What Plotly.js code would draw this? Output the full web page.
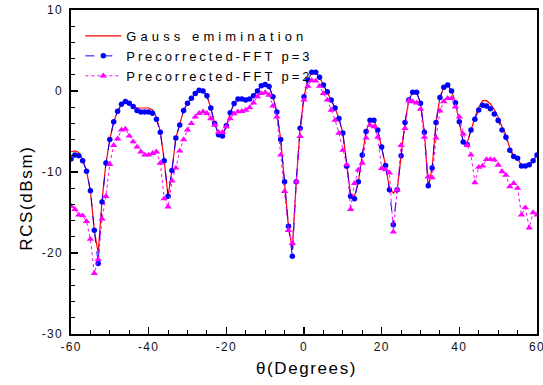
<!DOCTYPE html>
<html>
<head>
<meta charset="utf-8">
<script src="https://cdn.plot.ly/plotly-3.0.1.min.js"></script>
<style>
  html, body { margin: 0; padding: 0; background: #fff; }
  #chart { width: 543px; height: 385px; }
  .legendtext { letter-spacing: 2.9px; }
  .legend .traces:first-child .legendtext { letter-spacing: 4.1px; }
  .xtick text, .ytick text { letter-spacing: 1.3px; }
  .annotation-text { letter-spacing: 1.6px; }
</style>
</head>
<body>
<div id="chart"></div>
<script>
// Angle (degrees)
const theta = [-60,-59,-58,-57,-56,-55,-54,-53,-52,-51,-50,-49,-48,-47,-46,-45,-44,-43,-42,-41,
  -40,-39,-38,-37,-36,-35,-34,-33,-32,-31,-30,-29,-28,-27,-26,-25,-24,-23,-22,-21,
  -20,-19,-18,-17,-16,-15,-14,-13,-12,-11,-10,-9,-8,-7,-6,-5,-4,-3,-2,-1,
  0,1,2,3,4,5,6,7,8,9,10,11,12,13,14,15,16,17,18,19,
  20,21,22,23,24,25,26,27,28,29,30,31,32,33,34,35,36,37,38,39,
  40,41,42,43,44,45,46,47,48,49,50,51,52,53,54,55,56,57,58,59,60];

// Gauss elimination (reference solution)
const gauss = [-7.5,-7.4,-7.6,-8.4,-9.9,-12.3,-17.2,-20.0,-13.5,-8.9,-6.0,-3.8,-2.5,-1.6,-1.25,-1.35,-1.8,-2.1,-2.1,-2.1,
  -2.1,-2.3,-3.2,-5.0,-8.6,-13.0,-9.8,-5.8,-4.2,-2.4,-1.5,-0.9,-0.3,0.1,0.0,-0.6,-2.1,-4.0,-5.4,-5.55,
  -4.3,-2.7,-1.55,-1.0,-1.0,-1.1,-1.0,-0.6,0.0,0.65,0.8,0.55,-0.7,-2.6,-6.0,-11.2,-16.7,-19.6,-11.2,-4.6,
  -0.7,1.35,2.3,2.3,1.7,0.75,-0.1,-1.1,-2.1,-3.4,-5.2,-9.3,-12.8,-13.0,-11.2,-7.9,-5.0,-3.6,-3.6,-4.8,
  -6.9,-9.2,-12.0,-12.6,-12.2,-8.0,-3.9,-1.1,-0.15,-0.15,-1.5,-5.1,-12.0,-9.5,-3.9,-0.8,0.45,0.75,0.0,-1.45,
  -3.8,-6.3,-6.4,-4.7,-3.3,-2.0,-1.2,-1.2,-1.6,-2.3,-3.2,-4.4,-5.4,-7.1,-8.0,-8.3,-9.2,-9.25,-9.1,-8.6,-7.9];

// Precorrected-FFT p=3
const pfft3 = [-8.4,-7.9,-8.0,-8.6,-9.9,-12.3,-17.2,-21.3,-13.7,-8.9,-6.0,-3.8,-2.5,-1.65,-1.3,-1.5,-1.9,-2.4,-2.6,-2.6,
  -2.6,-2.75,-3.5,-5.1,-8.6,-13.0,-9.8,-5.8,-4.2,-2.4,-1.5,-0.9,-0.3,0.1,0.0,-0.6,-2.1,-4.0,-5.4,-5.55,
  -4.3,-2.7,-1.55,-1.0,-1.0,-1.1,-1.0,-0.6,0.0,0.65,0.8,0.55,-0.7,-2.6,-6.0,-11.2,-16.7,-20.4,-11.2,-4.6,
  -0.7,1.35,2.3,2.3,1.7,0.75,-0.1,-1.1,-2.1,-3.4,-5.2,-9.3,-13.0,-13.3,-11.2,-7.9,-5.0,-3.6,-3.6,-4.8,
  -6.9,-9.2,-12.2,-16.5,-12.2,-8.0,-3.9,-1.1,-0.15,-0.15,-1.5,-5.1,-11.7,-9.5,-3.9,-0.8,0.45,0.75,0.0,-1.45,
  -3.8,-6.3,-6.6,-4.8,-3.5,-2.35,-1.75,-1.85,-2.2,-2.85,-3.65,-4.8,-5.7,-7.3,-8.1,-8.3,-9.25,-9.25,-9.1,-8.6,-7.9];

// Precorrected-FFT p=2
const pfft2 = [-14.2,-14.6,-15.3,-15.4,-16.1,-18.3,-22.5,-20.8,-15.8,-13.0,-9.05,-6.7,-5.9,-4.8,-4.7,-5.55,-6.25,-6.9,-7.5,-7.9,
  -7.9,-7.7,-7.5,-8.9,-13.3,-14.3,-11.1,-9.5,-7.4,-6.0,-4.8,-4.0,-3.2,-2.75,-2.55,-2.75,-3.4,-4.2,-5.1,-5.1,
  -4.4,-3.4,-2.8,-2.55,-2.5,-2.35,-2.05,-1.45,-0.7,-0.3,-0.2,-0.5,-1.85,-3.2,-7.9,-12.4,-17.2,-18.8,-11.2,-5.6,
  -1.1,0.6,1.3,1.25,0.6,-0.3,-1.1,-2.35,-3.6,-5.2,-7.3,-9.1,-14.6,-11.4,-9.75,-8.9,-5.8,-4.2,-4.4,-5.7,
  -9.55,-9.7,-10.1,-17.4,-12.2,-6.7,-4.6,-1.2,-1.3,-1.45,-2.25,-5.7,-10.6,-10.7,-5.8,-2.45,-1.3,-0.9,-0.9,-1.95,
  -3.2,-5.3,-6.7,-7.9,-11.3,-9.4,-9.25,-8.45,-8.45,-8.5,-9.15,-9.95,-10.4,-11.8,-11.4,-12.0,-15.3,-14.4,-16.9,-15.0,-15.3];

const seriesNames = ['Gauss emimination', 'Precorrected-FFT p=3', 'Precorrected-FFT p=2'];
const xTickVals = [-60,-40,-20,0,20,40,60];
const yTickVals = [-30,-20,-10,0,10];

const FONT = 'Liberation Sans, Arial, sans-serif';

const traces = [
  { x: theta, y: gauss, name: seriesNames[0], type: 'scatter', mode: 'lines',
    line: { color: '#ff0000', width: 1.2 } },
  { x: theta, y: pfft3, name: seriesNames[1], type: 'scatter', mode: 'lines+markers',
    line: { color: '#0000ff', width: 1, dash: 'dash' },
    marker: { symbol: 'circle', size: 5.5, color: '#0000ff' } },
  { x: theta, y: pfft2, name: seriesNames[2], type: 'scatter', mode: 'lines+markers',
    line: { color: '#ff00ff', width: 1, dash: 'dot' },
    marker: { symbol: 'triangle-up', size: 6.5, color: '#ff00ff' } }
];

const layout = {
  width: 543, height: 385,
  margin: { l: 71, r: 6, t: 10, b: 51 },
  paper_bgcolor: '#ffffff', plot_bgcolor: '#ffffff',
  font: { family: FONT, size: 12, color: '#000' },
  showlegend: true,
  legend: {
    x: 0.02, y: 0.966, xanchor: 'left', yanchor: 'top',
    bgcolor: 'rgba(0,0,0,0)', borderwidth: 0,
    font: { family: FONT, size: 13, color: '#000' },
    itemwidth: 36, tracegroupgap: 0
  },
  xaxis: {
    range: [-60, 60], tickvals: xTickVals, ticktext: xTickVals.map(String),
    ticks: 'inside', ticklen: 7, tickwidth: 1.2, tickcolor: '#000',
    minor: { dtick: 5, ticks: 'inside', ticklen: 4, tickwidth: 1, tickcolor: '#000' },
    showline: true, linecolor: '#000', linewidth: 1.6, mirror: true,
    showgrid: false, zeroline: false,
    tickfont: { family: FONT, size: 12, color: '#111' },
    ticklabelstandoff: 1, ticklabeloverflow: 'allow'
  },
  yaxis: {
    range: [-30, 10], tickvals: yTickVals, ticktext: yTickVals.map(String),
    ticks: 'inside', ticklen: 7, tickwidth: 1.2, tickcolor: '#000',
    minor: { dtick: 2, ticks: 'inside', ticklen: 4, tickwidth: 1, tickcolor: '#000' },
    showline: true, linecolor: '#000', linewidth: 1.6, mirror: true,
    showgrid: false, zeroline: false,
    tickfont: { family: FONT, size: 12, color: '#111' },
    ticklabelstandoff: 4, ticklabeloverflow: 'allow'
  },
  annotations: [
    { text: 'θ(Degrees)', xref: 'paper', yref: 'paper', x: 0.505, y: -0.105,
      xanchor: 'center', yanchor: 'middle', showarrow: false,
      font: { family: FONT, size: 17, color: '#000' } },
    { text: 'RCS(dBsm)', xref: 'paper', yref: 'paper', x: -0.095, y: 0.42,
      xanchor: 'center', yanchor: 'middle', textangle: -90, showarrow: false,
      font: { family: FONT, size: 17, color: '#000' } }
  ]
};

Plotly.newPlot('chart', traces, layout, { displayModeBar: false, staticPlot: true });
</script>
</body>
</html>
